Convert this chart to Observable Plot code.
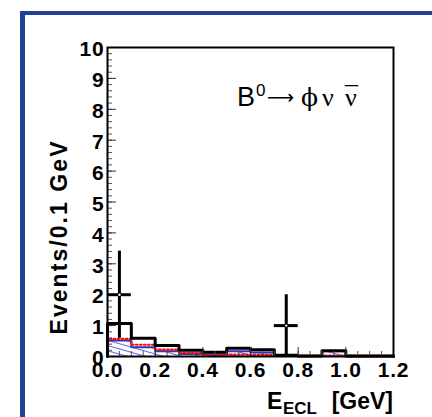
<!DOCTYPE html>
<html>
<head>
<meta charset="utf-8">
<script src="https://cdn.jsdelivr.net/npm/d3@7"></script>
<script src="https://cdn.jsdelivr.net/npm/@observablehq/plot@0.6"></script>
<style>
  body { margin: 0; background: #fff; }
  #wrap { position: relative; width: 432px; height: 417px; overflow: hidden; }
  #border { position: absolute; left: 20px; top: 11px; width: 600px; height: 600px;
            border-left: 5px solid #23409a; border-top: 4px solid #23409a; }
  #wrap svg { position: absolute; left: 0; top: 0; }
  .tick-lbl text { letter-spacing: 0.8px; }
</style>
</head>
<body>
<div id="wrap"><div id="border"></div></div>
<script>
// E_ECL histogram, 0.1 GeV bins
const binLo = [0.0, 0.1, 0.2, 0.3, 0.4, 0.5, 0.6, 0.7, 0.8, 0.9, 1.0, 1.1];
const binHi = 1.2;
// total expected background (black solid)
const bkgTotal = [1.07, 0.59, 0.36, 0.20, 0.14, 0.27, 0.22, 0.04, 0.02, 0.19, 0.02, 0.02];
// background component (blue hatched)
const bkgPart = [0.52, 0.30, 0.17, 0.08, 0.06, 0.17, 0.13, 0.02, 0.02, 0.17, 0.01, 0.01];
// signal shape (red dotted)
const signalShape = [0.57, 0.38, 0.22, 0.12, 0.07, 0.06, 0.05, 0.04, 0.03, 0.03, 0.03, 0.03];
// observed events with errors
const dataX = [0.05, 0.75];
const dataN = [2, 1];
const dataErr = [1.41, 1.0];
// axis ticks
const yMajor = [0, 1, 2, 3, 4, 5, 6, 7, 8, 9, 10];
const xMajor = [0, 0.2, 0.4, 0.6, 0.8, 1.0, 1.2];
const xTickLabels = ["0.0", "0.2", "0.4", "0.6", "0.8", "1.0", "1.2"];

// step outline points for a histogram
function steps(vals) {
  const pts = [{x: binLo[0], y: 0}];
  binLo.forEach((x, i) => pts.push({x, y: vals[i]}));
  pts.push({x: binHi, y: vals[vals.length - 1]});
  pts.push({x: binHi, y: 0});
  return pts;
}
const dataPts = dataX.map((x, i) => ({x, n: dataN[i], lo: dataN[i] - dataErr[i], hi: dataN[i] + dataErr[i]}));
const yMinor = d3.range(0, 10.001, 0.2).map(v => +v.toFixed(1));
const xMinor = d3.range(0, 1.2001, 0.05).map(v => +v.toFixed(2));

const font = "'Liberation Sans', Arial, Helvetica, sans-serif";
const serif = "'Liberation Serif', 'Times New Roman', serif";

const plot = Plot.plot({
  width: 432,
  height: 417,
  marginLeft: 107,
  marginRight: 39,
  marginTop: 47,
  marginBottom: 61,
  x: {domain: [0, 1.2]},
  y: {domain: [0, 10]},
  style: {background: "transparent", fontFamily: font, color: "black", overflow: "visible"},
  marks: [
    // blue hatched component
    Plot.areaY(steps(bkgPart), {x: "x", y: "y", curve: "step-after", fill: "url(#hatch)"}),
    Plot.line(steps(bkgPart), {x: "x", y: "y", curve: "step-after", stroke: "#3434b8", strokeWidth: 2}),
    // red dotted signal
    Plot.line(steps(signalShape), {x: "x", y: "y", curve: "step-after", stroke: "#f01010", strokeWidth: 2.2, strokeDasharray: "1.6,2.4"}),
    // total background
    Plot.line(steps(bkgTotal), {x: "x", y: "y", curve: "step-after", stroke: "black", strokeWidth: 3}),
    // minor ticks, drawn inward
    Plot.axisY({ticks: yMinor, tickSize: 5, dx: 5, text: null, label: null, stroke: "#555"}),
    Plot.axisX({ticks: xMinor, tickSize: 5, dy: -5, text: null, label: null, stroke: "#555"}),
    // major ticks
    Plot.axisY({ticks: yMajor, tickSize: 9, dx: 9, text: null, label: null, stroke: "#333"}),
    Plot.axisX({ticks: xMajor, tickSize: 9, dy: -9, text: null, label: null, stroke: "#333"}),
    // tick labels
    Plot.axisY({ticks: yMajor, tickSize: 0, tickPadding: 3, dy: 2, label: null, fontSize: 21, fontWeight: "bold", className: "tick-lbl", tickFormat: d => String(d)}),
    Plot.axisX({ticks: xMajor, tickSize: 0, tickPadding: 6, label: null, fontSize: 21, fontWeight: "bold", className: "tick-lbl", tickFormat: d => xTickLabels[xMajor.indexOf(d)]}),
    Plot.frame({stroke: "black", strokeWidth: 2}),
    // data points with error bars
    Plot.ruleX(dataPts, {x: "x", y1: "lo", y2: "hi", stroke: "black", strokeWidth: 3}),
    Plot.ruleY(dataPts, {y: "n", x1: d => d.x - 0.05, x2: d => d.x + 0.05, stroke: "black", strokeWidth: 3}),
    Plot.dot(dataPts, {x: "x", y: "n", r: 1.2, fill: "white"})
  ]
});

const svg = d3.select(plot);
// hatch pattern for the blue component
const defs = svg.insert("defs", ":first-child");
const pat = defs.append("pattern")
  .attr("id", "hatch").attr("patternUnits", "userSpaceOnUse")
  .attr("width", 10).attr("height", 5)
  .attr("patternTransform", "rotate(16)");
pat.append("line").attr("x1", 0).attr("x2", 10).attr("y1", 2.5).attr("y2", 2.5)
  .attr("stroke", "#6464dc").attr("stroke-width", 1);

function label(x, y, txt, size, family, weight, anchor) {
  return svg.append("text")
    .attr("x", x).attr("y", y)
    .attr("font-family", family).attr("font-size", size)
    .attr("font-weight", weight || "normal")
    .attr("text-anchor", anchor || "start")
    .attr("fill", "black")
    .text(txt);
}

// y-axis title
svg.append("text")
  .attr("transform", "translate(67,238) rotate(-90)")
  .attr("font-family", font).attr("font-weight", "bold").attr("font-size", 23)
  .attr("textLength", 193).attr("lengthAdjust", "spacing")
  .attr("fill", "black")
  .text("Events/0.1 GeV");

// x-axis title: E with subscript ECL, then unit
label(267, 409, "E", 23, font, "bold");
label(283, 414, "ECL", 17, font, "bold").attr("textLength", 34).attr("lengthAdjust", "spacing");
label(393, 409, "[GeV]", 23, font, "bold", "end");

// decay label: B0 -> phi nu nu-bar
label(237, 106, "B", 27, font);
label(256, 96, "0", 17, font);
label(267, 104, "\u27F6", 20, "'DejaVu Sans', sans-serif").attr("textLength", 27).attr("lengthAdjust", "spacingAndGlyphs");
label(301, 106, "\u03D5", 25, "'DejaVu Serif', serif");
label(322, 106, "\u03BD", 26, serif);
label(345, 106, "\u03BD", 26, serif);
label(345, 104, "\u00AF", 26, serif).attr("textLength", 13).attr("lengthAdjust", "spacingAndGlyphs");

document.getElementById("wrap").appendChild(plot);
</script>
</body>
</html>
